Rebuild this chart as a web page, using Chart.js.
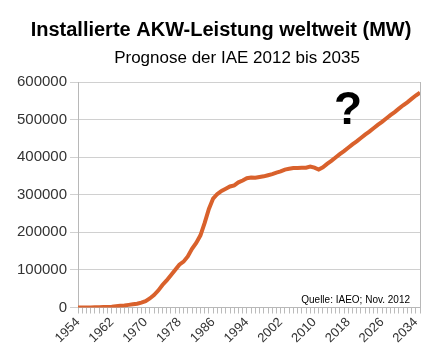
<!DOCTYPE html>
<html lang="de">
<head>
<meta charset="UTF-8">
<title>Installierte AKW-Leistung weltweit</title>
<script src="https://cdn.jsdelivr.net/npm/chart.js"></script>
<style>
  html, body { margin: 0; padding: 0; background: #ffffff; }
  #wrap { width: 433px; height: 361px; position: relative; }
</style>
</head>
<body>
<div id="wrap"><canvas id="akwChart"></canvas></div>
<script>
// Jahre (Kategorien)
var years = [
  '1954','1955','1956','1957','1958','1959','1960','1961','1962','1963',
  '1964','1965','1966','1967','1968','1969','1970','1971','1972','1973',
  '1974','1975','1976','1977','1978','1979','1980','1981','1982','1983',
  '1984','1985','1986','1987','1988','1989','1990','1991','1992','1993',
  '1994','1995','1996','1997','1998','1999','2000','2001','2002','2003',
  '2004','2005','2006','2007','2008','2009','2010','2011','2012','2013',
  '2014','2015','2016','2017','2018','2019','2020','2021','2022','2023',
  '2024','2025','2026','2027','2028','2029','2030','2031','2032','2033',
  '2034','2035'
];

// Installierte Leistung in MW, ab 2012 Prognose
var capacityMW = [
  5, 5, 60, 200, 400, 700, 1100, 1500, 2300, 3500,
  4500, 5500, 7000, 8500, 10000, 13000, 17000, 24000, 33000, 45000,
  60000, 72000, 86000, 100000, 114000, 122000, 136000, 156000, 172000, 192000,
  225000, 262000, 290000, 302000, 310000, 316000, 322000, 325000, 333000, 338000,
  344000, 346000, 345000, 347000, 349000, 352000, 355000, 359000, 362000, 367000,
  369000, 371000, 371000, 372000, 372000, 375000, 372000, 367000, 373000, 382000,
  390000, 399000, 408000, 416000, 425000, 434000, 442000, 451000, 460000, 468000,
  477000, 486000, 494000, 503000, 512000, 520000, 529000, 538000, 546000, 555000,
  564000, 572000
];

// beschriftete Jahre an der x-Achse
var xTickLabels = ['1954','1962','1970','1978','1986','1994','2002','2010','2018','2026','2034'];

var titleText = 'Installierte AKW-Leistung weltweit (MW)';
var subtitleText = 'Prognose der IAE 2012 bis 2035';
var sourceText = 'Quelle: IAEO; Nov. 2012';

var extraText = {
  id: 'extraText',
  afterDraw: function(chart) {
    var c = chart.ctx;
    var area = chart.chartArea;
    c.save();
    // rechter Rahmen
    c.strokeStyle = '#b8b8b8';
    c.lineWidth = 1;
    c.beginPath();
    c.moveTo(Math.round(area.right) + 0.5, area.top);
    c.lineTo(Math.round(area.right) + 0.5, area.bottom);
    c.stroke();

    c.fillStyle = '#000000';
    c.textAlign = 'center';
    c.textBaseline = 'middle';
    c.font = 'bold 20px "Liberation Sans", Arial, sans-serif';
    c.fillText(titleText, 221, 30);
    c.font = '17px "Liberation Sans", Arial, sans-serif';
    c.fillText(subtitleText, 237, 58);

    c.font = 'bold 46px "Liberation Sans", Arial, sans-serif';
    c.fillText('?', 348, 111);

    c.textAlign = 'right';
    c.font = '10px "Liberation Sans", Arial, sans-serif';
    c.fillText(sourceText, 410, 300);
    c.restore();
  }
};

var ctx = document.getElementById('akwChart').getContext('2d');
var akwChart = new Chart(ctx, {
  type: 'line',
  data: {
    labels: years,
    datasets: [{
      label: 'Installierte Leistung (MW)',
      data: capacityMW,
      borderColor: '#d9612c',
      backgroundColor: 'rgba(0,0,0,0)',
      borderWidth: 4,
      pointRadius: 0,
      tension: 0
    }]
  },
  options: {
    responsive: true,
    maintainAspectRatio: false,
    animation: false,
    layout: { padding: { top: 82, right: 13, left: 0, bottom: 0 } },
    plugins: {
      legend: { display: false },
      tooltip: { enabled: false }
    },
    scales: {
      x: {
        offset: false,
        border: { color: '#b8b8b8' },
        grid: { drawOnChartArea: false, tickLength: 6, color: '#bbbbbb' },
        ticks: {
          autoSkip: false,
          minRotation: 45,
          maxRotation: 45,
          color: '#333333',
          padding: 1,
          font: { family: '"Liberation Sans", Arial, sans-serif', size: 13 },
          callback: function(value, index) {
            var lab = years[index];
            return xTickLabels.indexOf(lab) >= 0 ? lab : '';
          }
        },
        afterFit: function(scale) { scale.height = 53.5; }
      },
      y: {
        min: 0,
        max: 600000,
        border: { color: '#b8b8b8' },
        grid: { color: '#d0d0d0', tickLength: 8 },
        ticks: {
          stepSize: 100000,
          color: '#333333',
          padding: 3,
          font: { family: '"Liberation Sans", Arial, sans-serif', size: 15 },
          callback: function(value) { return String(value); }
        },
        afterFit: function(scale) { scale.width = 78; }
      }
    }
  },
  plugins: [extraText]
});
</script>
</body>
</html>
